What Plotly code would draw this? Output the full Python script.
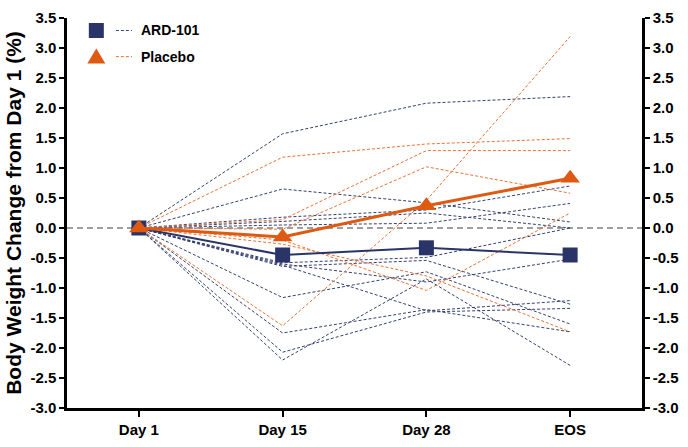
import plotly.graph_objects as go

categories = ["Day 1", "Day 15", "Day 28", "EOS"]

# Individual subjects, ARD-101 (% change from Day 1)
ard_individual = [
    [0, 1.57, 2.08, 2.19],
    [0, 0.65, 0.42, 0.10],
    [0, 0.18, 0.30, 0.70],
    [0, 0.11, 0.25, 0.00],
    [0, 0.05, 0.08, 0.41],
    [0, -0.58, -0.49, 0.00],
    [0, -0.64, -0.54, -1.27],
    [0, -1.16, -0.73, -1.60],
    [0, -2.20, -0.85, -2.29],
    [0, -2.07, -1.40, -1.34],
    [0, -1.75, -1.36, -1.73],
    [0, -0.62, -1.38, -1.21],
    [0, -0.60, -0.90, -0.52],
]

# Individual subjects, Placebo
placebo_individual = [
    [0, 1.18, 1.40, 1.49],
    [0, 0.14, 1.29, 1.29],
    [0, -0.02, 1.02, 0.58],
    [0, -1.63, 0.46, 3.19],
    [0, -0.20, -1.04, 0.25],
    [0, -0.27, -0.80, -1.73],
]

ard_mean = [0, -0.45, -0.33, -0.45]
placebo_mean = [0, -0.15, 0.37, 0.83]

y_ticks = [-3.0, -2.5, -2.0, -1.5, -1.0, -0.5, 0.0, 0.5, 1.0, 1.5, 2.0, 2.5, 3.0, 3.5]
y_ticklabels = ["%.1f" % v for v in y_ticks]

NAVY = "#2B3466"
NAVY_THIN = "#35406F"
ORANGE = "#DE5A12"
ORANGE_THIN = "#EA7235"

FONT = "Liberation Sans, Arial, sans-serif"

fig = go.Figure()

for ys in ard_individual:
    fig.add_trace(go.Scatter(x=categories, y=ys, mode="lines",
                             line=dict(color=NAVY_THIN, width=1, dash="3px,2px"),
                             showlegend=False, hoverinfo="skip"))
for ys in placebo_individual:
    fig.add_trace(go.Scatter(x=categories, y=ys, mode="lines",
                             line=dict(color=ORANGE_THIN, width=1, dash="3px,2px"),
                             showlegend=False, hoverinfo="skip"))

fig.add_trace(go.Scatter(x=categories, y=ard_mean, mode="lines+markers",
                         line=dict(color=NAVY, width=2),
                         marker=dict(symbol="square", size=15, color=NAVY),
                         showlegend=False))
fig.add_trace(go.Scatter(x=categories, y=placebo_mean, mode="lines+markers",
                         line=dict(color=ORANGE, width=3),
                         marker=dict(symbol="triangle-up", size=17, color=ORANGE),
                         showlegend=False))

# dummy trace to activate the right-hand axis
fig.add_trace(go.Scatter(x=categories, y=[None] * len(categories), yaxis="y2",
                         mode="lines", showlegend=False, hoverinfo="skip"))

tickfont = dict(family=FONT, size=15, color="black", weight="bold")

fig.update_layout(
    width=688, height=447,
    margin=dict(l=67, r=32, t=9, b=33),
    plot_bgcolor="white", paper_bgcolor="white",
    showlegend=False,
    font=dict(family=FONT, color="black"),
    xaxis=dict(
        type="category", range=[-0.5, 3.5],
        showline=True, linecolor="black", linewidth=2.5,
        ticks="outside", ticklen=6, tickwidth=2, tickcolor="black",
        showgrid=False, zeroline=False,
        tickfont=dict(family=FONT, size=15, color="black", weight="bold"),
    ),
    yaxis=dict(
        range=[-3.0, 3.5], tickvals=y_ticks, ticktext=y_ticklabels,
        showline=True, linecolor="black", linewidth=2.5,
        ticks="outside", ticklen=5, tickwidth=2, tickcolor="black",
        showgrid=False, zeroline=False,
        tickfont=tickfont,
        title=dict(text="Body Weight Change from Day 1 (%)",
                   font=dict(family=FONT, size=21, color="black", weight="bold"),
                   standoff=4),
    ),
    yaxis2=dict(
        overlaying="y", side="right", anchor="x",
        range=[-3.0, 3.5], tickvals=y_ticks, ticktext=y_ticklabels,
        showline=True, linecolor="black", linewidth=2.5,
        ticks="outside", ticklen=5, tickwidth=2, tickcolor="black",
        showgrid=False, zeroline=False,
        tickfont=tickfont,
    ),
)

# zero reference line
fig.add_shape(type="line", xref="paper", yref="y", x0=0, x1=1, y0=0, y1=0,
              line=dict(color="#808080", width=1.5, dash="6px,4px"), layer="below")

# custom legend
legend_items = [("ARD-101", NAVY, NAVY_THIN, "square", 0.968),
                ("Placebo", ORANGE, ORANGE_THIN, "triangle", 0.901)]
for label, col, thin, sym, yy in legend_items:
    if sym == "square":
        fig.add_shape(type="rect", xref="paper", yref="paper",
                      xsizemode="pixel", ysizemode="pixel", xanchor=0.051, yanchor=yy,
                      x0=-7.5, x1=7.5, y0=-7.5, y1=7.5,
                      fillcolor=col, line=dict(color=col, width=0))
    else:
        fig.add_shape(type="path", xref="paper", yref="paper",
                      xsizemode="pixel", ysizemode="pixel", xanchor=0.051, yanchor=yy,
                      path="M -9 -7 L 9 -7 L 0 8 Z",
                      fillcolor=col, line=dict(color=col, width=0))
    fig.add_shape(type="line", xref="paper", yref="paper",
                  x0=0.085, x1=0.113, y0=yy, y1=yy,
                  line=dict(color=thin, width=1, dash="3px,2px"))
    fig.add_annotation(xref="paper", yref="paper", x=0.126, y=yy, text=label,
                       showarrow=False, xanchor="left", yanchor="middle",
                       font=dict(family=FONT, size=14, color="black", weight="bold"))

fig.write_html("out.html")
